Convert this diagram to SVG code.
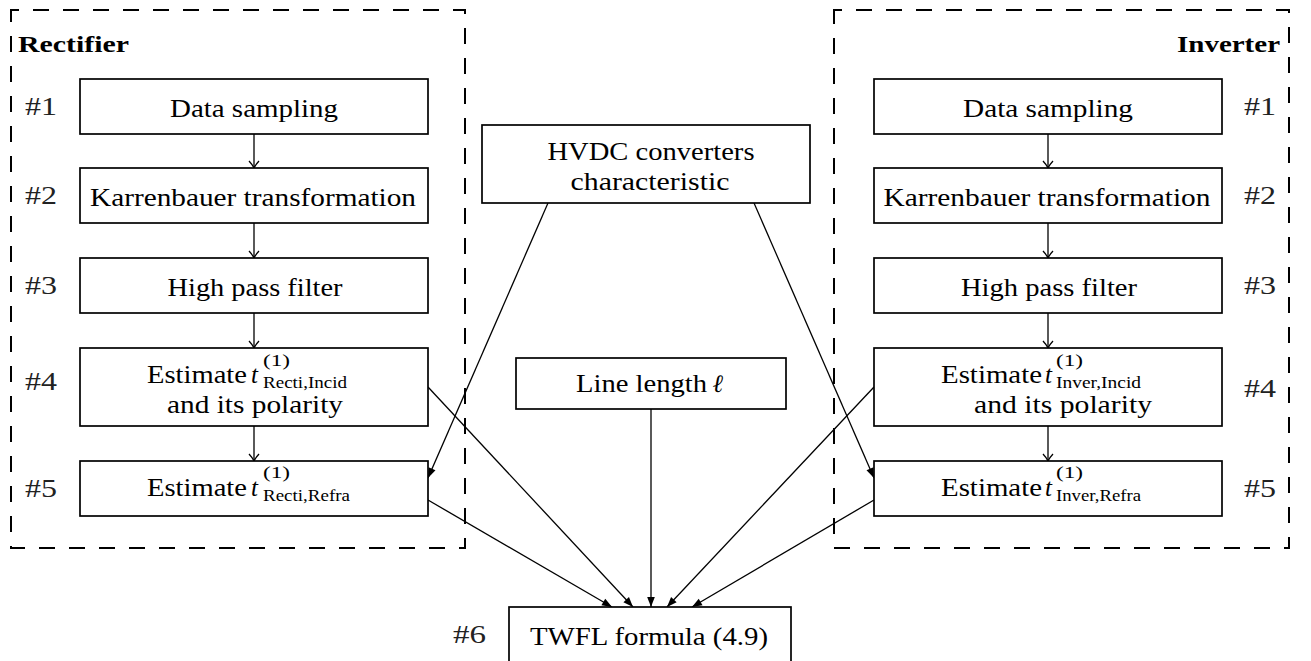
<svg xmlns="http://www.w3.org/2000/svg" width="1311" height="661" viewBox="0 0 1311 661">
  <style>
    .box { fill: #fff; stroke: #000; stroke-width: 1.7; }
    .grp { fill: none; stroke: #000; stroke-width: 2; stroke-dasharray: 16 14; }
    .edge { fill: none; stroke: #000; stroke-width: 1.3; }
    .t { font-family: "Liberation Serif", "Times New Roman", serif; font-size: 25px; fill: #000; }
    .s { font-family: "Liberation Serif", "Times New Roman", serif; font-size: 17px; fill: #000; }
    .it { font-style: italic; }
    .num { font-family: "Liberation Serif", "Times New Roman", serif; font-size: 25px; fill: #222; }
    .hd { font-family: "Liberation Serif", "Times New Roman", serif; font-size: 24px; font-weight: bold; fill: #000; }
  </style>
  <defs>
    <marker id="open" markerUnits="userSpaceOnUse" markerWidth="16" markerHeight="16" viewBox="-10 -8 12 16" refX="0" refY="0" orient="auto">
      <path d="M-7,-5 C-4.5,-2.6 -1.8,-0.9 0,0 C-1.8,0.9 -4.5,2.6 -7,5" fill="none" stroke="#000" stroke-width="1.3"/>
    </marker>
    <marker id="solid" markerUnits="userSpaceOnUse" markerWidth="14" markerHeight="12" viewBox="-12 -6 14 12" refX="0" refY="0" orient="auto">
      <path d="M0,0 L-10,-3.8 L-10,3.8 Z" fill="#000"/>
    </marker>
  </defs>

  <!-- station frames -->
  <g id="rectifier">
    <path class="grp" d="M11,18 L11,10 L465,10 L465,548 L11,548 Z"/>
    <text class="hd" x="18" y="52" textLength="111" lengthAdjust="spacingAndGlyphs">Rectifier</text>
  </g>
  <g id="inverter">
    <path class="grp" d="M834,18 L834,10 L1289,10 L1289,548 L834,548 Z"/>
    <text class="hd" x="1177" y="52" textLength="103" lengthAdjust="spacingAndGlyphs">Inverter</text>
  </g>

  <!-- connectors -->
  <g id="connectors">
    <line class="edge" x1="254" y1="134" x2="254" y2="168" marker-end="url(#open)"/>
    <line class="edge" x1="254" y1="223" x2="254" y2="258" marker-end="url(#open)"/>
    <line class="edge" x1="254" y1="313" x2="254" y2="348" marker-end="url(#open)"/>
    <line class="edge" x1="254" y1="426" x2="254" y2="461" marker-end="url(#open)"/>
    <line class="edge" x1="1048" y1="134" x2="1048" y2="168" marker-end="url(#open)"/>
    <line class="edge" x1="1048" y1="223" x2="1048" y2="258" marker-end="url(#open)"/>
    <line class="edge" x1="1048" y1="313" x2="1048" y2="348" marker-end="url(#open)"/>
    <line class="edge" x1="1048" y1="426" x2="1048" y2="461" marker-end="url(#open)"/>
    <line class="edge" x1="548" y1="203" x2="428" y2="478" marker-end="url(#solid)"/>
    <line class="edge" x1="754" y1="203" x2="874" y2="478" marker-end="url(#solid)"/>
    <line class="edge" x1="428" y1="387" x2="633" y2="607" marker-end="url(#solid)"/>
    <line class="edge" x1="428" y1="500" x2="612" y2="607" marker-end="url(#solid)"/>
    <line class="edge" x1="651" y1="409" x2="651" y2="607" marker-end="url(#solid)"/>
    <line class="edge" x1="874" y1="387" x2="667" y2="607" marker-end="url(#solid)"/>
    <line class="edge" x1="874" y1="500" x2="692" y2="607" marker-end="url(#solid)"/>
  </g>

  <!-- rectifier steps -->
  <g id="r1">
    <rect class="box" x="80" y="79" width="348" height="55"/>
    <text class="t" x="254" y="117" text-anchor="middle" textLength="168" lengthAdjust="spacingAndGlyphs">Data sampling</text>
    <text class="num" x="25" y="115" textLength="32" lengthAdjust="spacingAndGlyphs">#1</text>
  </g>
  <g id="r2">
    <rect class="box" x="80" y="168" width="348" height="55"/>
    <text class="t" x="253" y="206" text-anchor="middle" textLength="326" lengthAdjust="spacingAndGlyphs">Karrenbauer transformation</text>
    <text class="num" x="25" y="204" textLength="32" lengthAdjust="spacingAndGlyphs">#2</text>
  </g>
  <g id="r3">
    <rect class="box" x="80" y="258" width="348" height="55"/>
    <text class="t" x="255" y="296" text-anchor="middle" textLength="175" lengthAdjust="spacingAndGlyphs">High pass filter</text>
    <text class="num" x="25" y="294" textLength="32" lengthAdjust="spacingAndGlyphs">#3</text>
  </g>
  <g id="r4">
    <rect class="box" x="80" y="348" width="348" height="78"/>
    <text class="t" x="147" y="383" textLength="100" lengthAdjust="spacingAndGlyphs">Estimate</text>
    <text class="t it" x="251" y="383">t</text>
    <text class="s" x="263" y="366" textLength="27" lengthAdjust="spacingAndGlyphs">(1)</text>
    <text class="s" x="263" y="388" textLength="84" lengthAdjust="spacingAndGlyphs">Recti,Incid</text>
    <text class="t" x="255" y="413" text-anchor="middle" textLength="176" lengthAdjust="spacingAndGlyphs">and its polarity</text>
    <text class="num" x="25" y="390" textLength="32" lengthAdjust="spacingAndGlyphs">#4</text>
  </g>
  <g id="r5">
    <rect class="box" x="80" y="461" width="348" height="55"/>
    <text class="t" x="147" y="496" textLength="100" lengthAdjust="spacingAndGlyphs">Estimate</text>
    <text class="t it" x="251" y="496">t</text>
    <text class="s" x="263" y="478" textLength="27" lengthAdjust="spacingAndGlyphs">(1)</text>
    <text class="s" x="263" y="501" textLength="87" lengthAdjust="spacingAndGlyphs">Recti,Refra</text>
    <text class="num" x="25" y="497" textLength="32" lengthAdjust="spacingAndGlyphs">#5</text>
  </g>

  <!-- inverter steps -->
  <g id="i1">
    <rect class="box" x="874" y="79" width="348" height="55"/>
    <text class="t" x="1048" y="117" text-anchor="middle" textLength="170" lengthAdjust="spacingAndGlyphs">Data sampling</text>
    <text class="num" x="1244" y="115" textLength="32" lengthAdjust="spacingAndGlyphs">#1</text>
  </g>
  <g id="i2">
    <rect class="box" x="874" y="168" width="348" height="55"/>
    <text class="t" x="1047" y="206" text-anchor="middle" textLength="327" lengthAdjust="spacingAndGlyphs">Karrenbauer transformation</text>
    <text class="num" x="1244" y="204" textLength="32" lengthAdjust="spacingAndGlyphs">#2</text>
  </g>
  <g id="i3">
    <rect class="box" x="874" y="258" width="348" height="55"/>
    <text class="t" x="1049" y="296" text-anchor="middle" textLength="176" lengthAdjust="spacingAndGlyphs">High pass filter</text>
    <text class="num" x="1244" y="294" textLength="32" lengthAdjust="spacingAndGlyphs">#3</text>
  </g>
  <g id="i4">
    <rect class="box" x="874" y="348" width="348" height="78"/>
    <text class="t" x="941" y="383" textLength="101" lengthAdjust="spacingAndGlyphs">Estimate</text>
    <text class="t it" x="1045" y="383">t</text>
    <text class="s" x="1056" y="366" textLength="27" lengthAdjust="spacingAndGlyphs">(1)</text>
    <text class="s" x="1056" y="388" textLength="85" lengthAdjust="spacingAndGlyphs">Inver,Incid</text>
    <text class="t" x="974" y="413" textLength="178" lengthAdjust="spacingAndGlyphs">and its polarity</text>
    <text class="num" x="1244" y="397" textLength="32" lengthAdjust="spacingAndGlyphs">#4</text>
  </g>
  <g id="i5">
    <rect class="box" x="874" y="461" width="348" height="55"/>
    <text class="t" x="941" y="496" textLength="101" lengthAdjust="spacingAndGlyphs">Estimate</text>
    <text class="t it" x="1045" y="496">t</text>
    <text class="s" x="1056" y="478" textLength="27" lengthAdjust="spacingAndGlyphs">(1)</text>
    <text class="s" x="1056" y="501" textLength="85" lengthAdjust="spacingAndGlyphs">Inver,Refra</text>
    <text class="num" x="1244" y="497" textLength="32" lengthAdjust="spacingAndGlyphs">#5</text>
  </g>

  <!-- shared inputs and output -->
  <g id="hvdc">
    <rect class="box" x="482" y="125" width="328" height="78"/>
    <text class="t" x="651" y="160" text-anchor="middle" textLength="207" lengthAdjust="spacingAndGlyphs">HVDC converters</text>
    <text class="t" x="650" y="190" text-anchor="middle" textLength="159" lengthAdjust="spacingAndGlyphs">characteristic</text>
  </g>
  <g id="length">
    <rect class="box" x="516" y="358" width="270" height="51"/>
    <text class="t" x="576" y="392" textLength="131" lengthAdjust="spacingAndGlyphs">Line length</text>
    <text class="t it" x="713" y="392" font-weight="bold">ℓ</text>
  </g>
  <g id="twfl">
    <rect class="box" x="509" y="607" width="282" height="70"/>
    <text class="t" x="530" y="645" textLength="238" lengthAdjust="spacingAndGlyphs">TWFL formula (4.9)</text>
    <text class="num" x="453" y="643" textLength="33" lengthAdjust="spacingAndGlyphs">#6</text>
  </g>
</svg>
